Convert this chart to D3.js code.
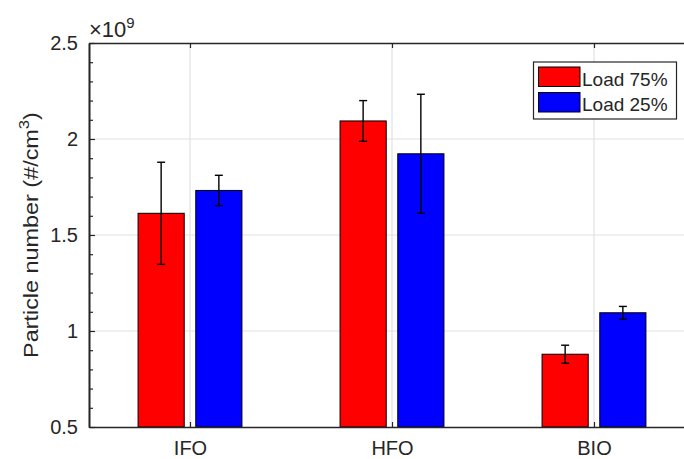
<!DOCTYPE html>
<html>
<head>
<meta charset="utf-8">
<script src="https://cdn.jsdelivr.net/npm/d3@7"></script>
<style>
  html, body { margin: 0; padding: 0; background: #fff; }
  svg { display: block; font-family: "Liberation Sans", Arial, Helvetica, sans-serif; }
</style>
</head>
<body>
<svg id="chart" width="684" height="459"></svg>
<script>
// Particle number concentration by fuel type at two engine loads
const categories = ["IFO", "HFO", "BIO"];
const seriesNames = ["Load 75%", "Load 25%"];
const load75 = [1.613, 2.094, 0.879];
const load25 = [1.732, 1.923, 1.095];
const err75 = [0.266, 0.106, 0.047];
const err25 = [0.079, 0.310, 0.033];
const yTicks = [0.5, 1, 1.5, 2, 2.5];
const colors = ["#ff0000", "#0000ff"];

const svg = d3.select("#chart");
const axisColor = "#262626";

const x = d3.scaleLinear().domain([0.5, 3.5]).range([89, 695]);
const y = d3.scaleLinear().domain([0.5, 2.5]).range([427, 43]);

// bars within a group: two series share a band of 0.571 category units
const groupW = 0.5714;
const sub = d3.scaleBand().domain([0, 1]).range([-groupW / 2, groupW / 2]).paddingInner(0.2).paddingOuter(0.1);

const values = [load75, load25];
const errs = [err75, err25];

const plot = svg.append("g");

// grid
plot.append("g").selectAll("line.hg").data(yTicks.slice(1, -1)).join("line")
  .attr("x1", x(0.5)).attr("x2", x(3.5))
  .attr("y1", d => y(d)).attr("y2", d => y(d))
  .attr("stroke", "#e1e1e1").attr("stroke-width", 1.2);
plot.append("g").selectAll("line.vg").data([1, 2, 3]).join("line")
  .attr("x1", d => x(d)).attr("x2", d => x(d))
  .attr("y1", y(2.5)).attr("y2", y(0.5))
  .attr("stroke", "#e1e1e1").attr("stroke-width", 1.2);

// bars
const barData = [];
values.forEach((vals, s) => vals.forEach((v, i) => barData.push({ s, i, v, e: errs[s][i] })));

function i2c(i) { return i + 1; }
function barCenter(d) { return x(i2c(d.i) + sub(d.s) + sub.bandwidth() / 2); }

const bw = x(sub.bandwidth()) - x(0);
plot.append("g").selectAll("rect").data(barData).join("rect")
  .attr("x", d => x(i2c(d.i) + sub(d.s)))
  .attr("width", bw)
  .attr("y", d => y(d.v))
  .attr("height", d => y(0.5) - y(d.v))
  .attr("fill", d => colors[d.s])
  .attr("stroke", "#000").attr("stroke-width", 1);

// error bars
const eb = plot.append("g").attr("stroke", "#000").attr("stroke-width", 1.4);
eb.selectAll("line.stem").data(barData).join("line")
  .attr("x1", barCenter).attr("x2", barCenter)
  .attr("y1", d => y(d.v + d.e)).attr("y2", d => y(d.v - d.e));
eb.selectAll("line.capT").data(barData).join("line")
  .attr("x1", d => barCenter(d) - 4).attr("x2", d => barCenter(d) + 4)
  .attr("y1", d => y(d.v + d.e)).attr("y2", d => y(d.v + d.e));
eb.selectAll("line.capB").data(barData).join("line")
  .attr("x1", d => barCenter(d) - 4).attr("x2", d => barCenter(d) + 4)
  .attr("y1", d => y(d.v - d.e)).attr("y2", d => y(d.v - d.e));

// axes
function styleAxis(g) {
  g.selectAll("path.domain").attr("stroke", axisColor).attr("stroke-width", 1.6);
  g.selectAll(".tick line").attr("stroke", axisColor).attr("stroke-width", 1.2);
  g.selectAll(".tick text").attr("fill", axisColor).attr("font-size", 20).attr("font-family", null);
}

const minor = d3.range(0.6, 2.5, 0.1).filter(v => Math.abs(v * 2 - Math.round(v * 2)) > 1e-6);
svg.append("g").attr("transform", `translate(${x(0.5)},0)`)
  .call(d3.axisLeft(y).tickValues(minor).tickSize(-4).tickSizeOuter(0).tickFormat(""))
  .call(styleAxis);

svg.append("g").attr("transform", `translate(${x(0.5)},0)`)
  .call(d3.axisLeft(y).tickValues(yTicks).tickSize(-6).tickSizeOuter(0).tickPadding(11).tickFormat(d3.format("")))
  .call(styleAxis);

svg.append("g").attr("transform", `translate(0,${y(0.5)})`)
  .call(d3.axisBottom(x).tickValues([1, 2, 3]).tickSize(-5).tickSizeOuter(0).tickPadding(14).tickFormat(d => categories[d - 1]))
  .call(styleAxis);

svg.append("g").attr("transform", `translate(0,${y(2.5)})`)
  .call(d3.axisTop(x).tickValues([1, 2, 3]).tickSize(-5).tickSizeOuter(0).tickFormat(""))
  .call(styleAxis);

// exponent
const ex = svg.append("text").attr("x", 89).attr("y", 37).attr("fill", axisColor).attr("font-size", 22);
ex.append("tspan").text("\u00d710");
ex.append("tspan").attr("font-size", 15).attr("dy", -9).text("9");

// y label, stretched slightly along its run to the axis height it labels
const cy = (y(0.5) + y(2.5)) / 2;
const ylG = svg.append("g").attr("transform", `translate(38,${cy}) rotate(-90)`);
const yl = ylG.append("text")
  .attr("text-anchor", "middle").attr("fill", axisColor).attr("font-size", 21);
yl.append("tspan").text("Particle number (#/cm");
yl.append("tspan").attr("font-size", 15).attr("dy", -9).text("3");
yl.append("tspan").attr("dy", 9).text(")");
const ylLen = yl.node().getBBox().width;
yl.attr("transform", `scale(${246 / ylLen},1)`);

// legend
const lg = svg.append("g");
lg.append("rect").attr("x", 533.5).attr("y", 62).attr("width", 143).attr("height", 57)
  .attr("fill", "#fff").attr("stroke", axisColor).attr("stroke-width", 1.2);
seriesNames.forEach((name, k) => {
  const top = 67 + k * 25.5;
  lg.append("rect").attr("x", 538.5).attr("y", top).attr("width", 41.5).attr("height", 19.5)
    .attr("fill", colors[k]).attr("stroke", "#000").attr("stroke-width", 1);
  lg.append("text").attr("x", 582).attr("y", top + 18.5).attr("fill", axisColor)
    .attr("font-size", 19).text(name);
});
</script>
</body>
</html>
